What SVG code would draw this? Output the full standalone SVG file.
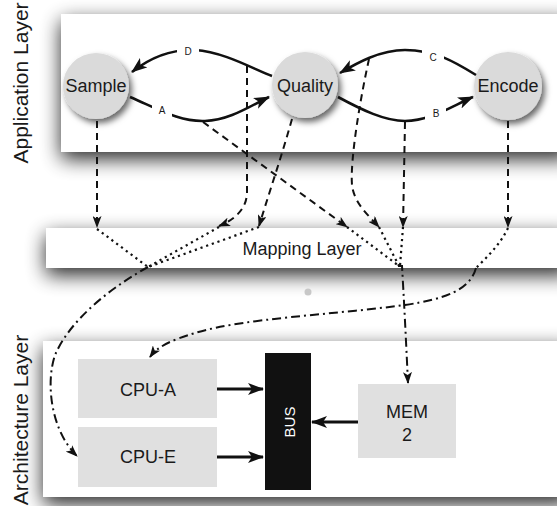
<svg xmlns="http://www.w3.org/2000/svg" width="557" height="506" viewBox="0 0 557 506">
  <style>
    .lbl { font-family: "Liberation Sans", Arial, sans-serif; fill: #1a1a1a; }
    .node-text { font-size: 18px; text-anchor: middle; }
    .side { font-size: 21px; text-anchor: middle; }
    .edge-lbl { font-size: 10px; text-anchor: middle; }
    .circle { fill: #dadada; filter: url(#nodeShadow); }
    .box { fill: #e0e0e0; }
    .panel { fill: #ffffff; filter: url(#panelShadow); }
    .solid { fill: none; stroke: #111; stroke-width: 2.6; marker-end: url(#head); }
    .dash { fill: none; stroke: #111; stroke-width: 2; stroke-dasharray: 7 5; marker-end: url(#headS); }
    .dot { fill: none; stroke: #111; stroke-width: 2.2; stroke-dasharray: 2.2 3.8; }
    .dashdot { fill: none; stroke: #111; stroke-width: 2; stroke-dasharray: 9 4 2 4; }
    .dashdot-arrow { marker-end: url(#headS); }
    .bus-arrow { fill: none; stroke: #111; stroke-width: 3; marker-end: url(#head); }
  </style>
  <defs>
    <filter id="panelShadow" x="-10%" y="-60%" width="120%" height="240%">
      <feGaussianBlur in="SourceAlpha" stdDeviation="10"/>
      <feOffset dy="7"/>
      <feComponentTransfer><feFuncA type="linear" slope="0.85"/></feComponentTransfer>
      <feMerge><feMergeNode/><feMergeNode in="SourceGraphic"/></feMerge>
    </filter>
    <filter id="nodeShadow" x="-30%" y="-30%" width="160%" height="160%">
      <feDropShadow dx="3" dy="4" stdDeviation="3" flood-color="#000" flood-opacity="0.6"/>
    </filter>
    <marker id="head" viewBox="0 0 16 12" refX="15" refY="6" markerWidth="16" markerHeight="12" orient="auto" markerUnits="userSpaceOnUse">
      <path d="M0,0 L16,6 L0,12 L4,6 z" fill="#111"/>
    </marker>
    <marker id="headS" viewBox="0 0 12 9" refX="11" refY="4.5" markerWidth="12" markerHeight="9" orient="auto" markerUnits="userSpaceOnUse">
      <path d="M0,0 L12,4.5 L0,9 L3,4.5 z" fill="#111"/>
    </marker>
  </defs>

  <rect width="557" height="506" fill="#ffffff"/>

  <!-- layer panels -->
  <g id="panels">
    <rect class="panel" x="61" y="14" width="510" height="138"/>
    <rect class="panel" x="46" y="228" width="525" height="40"/>
    <rect class="panel" x="43" y="341" width="528" height="156"/>
    <circle cx="308" cy="292" r="3.5" fill="#c8c8c8"/>
  </g>

  <!-- layer captions -->
  <text class="lbl side" transform="translate(28,83) rotate(-90)">Application Layer</text>
  <text class="lbl side" transform="translate(28,420) rotate(-90)">Architecture Layer</text>
  <text class="lbl node-text" x="302" y="255">Mapping Layer</text>

  <!-- application nodes -->
  <g id="node-sample">
    <circle class="circle" cx="96" cy="86" r="33"/>
    <text class="lbl node-text" x="96" y="92">Sample</text>
  </g>
  <g id="node-quality">
    <circle class="circle" cx="305" cy="85" r="33"/>
    <text class="lbl node-text" x="305" y="92">Quality</text>
  </g>
  <g id="node-encode">
    <circle class="circle" cx="508" cy="86" r="34"/>
    <text class="lbl node-text" x="508" y="92">Encode</text>
  </g>

  <!-- architecture nodes -->
  <g id="node-cpu-a">
    <rect class="box" x="78" y="359" width="139" height="59"/>
    <text class="lbl node-text" x="148" y="396">CPU-A</text>
  </g>
  <g id="node-cpu-e">
    <rect class="box" x="78" y="427" width="139" height="60"/>
    <text class="lbl node-text" x="148" y="463">CPU-E</text>
  </g>
  <g id="node-bus">
    <rect x="265" y="353" width="46" height="137" fill="#111"/>
    <text class="lbl" transform="translate(295,422) rotate(-90)" style="fill:#fff;font-size:15px;text-anchor:middle">BUS</text>
  </g>
  <g id="node-mem">
    <rect class="box" x="358" y="384" width="98" height="74"/>
    <text class="lbl node-text" x="407" y="418">MEM</text>
    <text class="lbl node-text" x="407" y="441">2</text>
  </g>

  <!-- connectors -->
  <g id="connectors">
    <!-- application edges -->
    <path class="solid" d="M130,97 C160,110 180,122 205,121 C230,120 250,106 269,97"/>
    <path class="solid" d="M338,97 C362,110 385,121 405,121 C430,121 452,106 473,97"/>
    <path class="solid" d="M476,75 C455,62 435,50 405,50 C380,50 357,63 340,73"/>
    <path class="solid" d="M272,76 C255,70 225,52 195,50 C168,49 147,60 132,72"/>

    <!-- mappings into the mapping layer -->
    <path class="dash" d="M97,121 L97,227"/>
    <path class="dash" d="M247,66 L247,192 C247,208 236,219 219,226"/>
    <path class="dash" d="M292,119 C282,155 270,190 259,226"/>
    <path class="dash" d="M203,122 L347,227"/>
    <path class="dash" d="M369,59 C360,100 350,160 352,185 C354,203 368,215 379,227"/>
    <path class="dash" d="M405,122 L403,227"/>
    <path class="dash" d="M508,121 L508,227"/>

    <!-- routing inside the mapping layer -->
    <path class="dot" d="M97,229 L148,267"/>
    <path class="dot" d="M219,227 L148,267"/>
    <path class="dot" d="M259,227 L148,267"/>
    <path class="dot" d="M347,227 L399,266"/>
    <path class="dot" d="M379,227 L399,266"/>
    <path class="dot" d="M403,227 L400,266"/>
    <path class="dot" d="M508,228 C500,245 486,258 476,268"/>

    <!-- mappings onto the architecture -->
    <path class="dashdot dashdot-arrow" d="M148,267 C110,288 70,320 55,355 C45,385 52,432 77,456"/>
    <path class="dashdot dashdot-arrow" d="M476,268 C470,290 445,299 405,305 C330,315 245,318 195,333 C172,340 158,346 150,357"/>
    <path class="dashdot dashdot-arrow" d="M398,266 L402,266 C404,300 406,340 408,383"/>

    <!-- bus links -->
    <path class="bus-arrow" d="M217,389 L263,389"/>
    <path class="bus-arrow" d="M217,457 L263,457"/>
    <path class="bus-arrow" d="M358,422 L312,422"/>
  </g>

  <!-- edge labels -->
  <g id="edge-labels">
    <rect x="177" y="43" width="22" height="15" fill="#fff"/>
    <text class="lbl edge-lbl" x="188" y="55">D</text>
    <rect x="152" y="103" width="20" height="15" fill="#fff"/>
    <text class="lbl edge-lbl" x="162" y="114">A</text>
    <rect x="422" y="50" width="22" height="15" fill="#fff"/>
    <text class="lbl edge-lbl" x="433" y="61">C</text>
    <rect x="425" y="106" width="21" height="15" fill="#fff"/>
    <text class="lbl edge-lbl" x="436" y="117">B</text>
  </g>
</svg>
